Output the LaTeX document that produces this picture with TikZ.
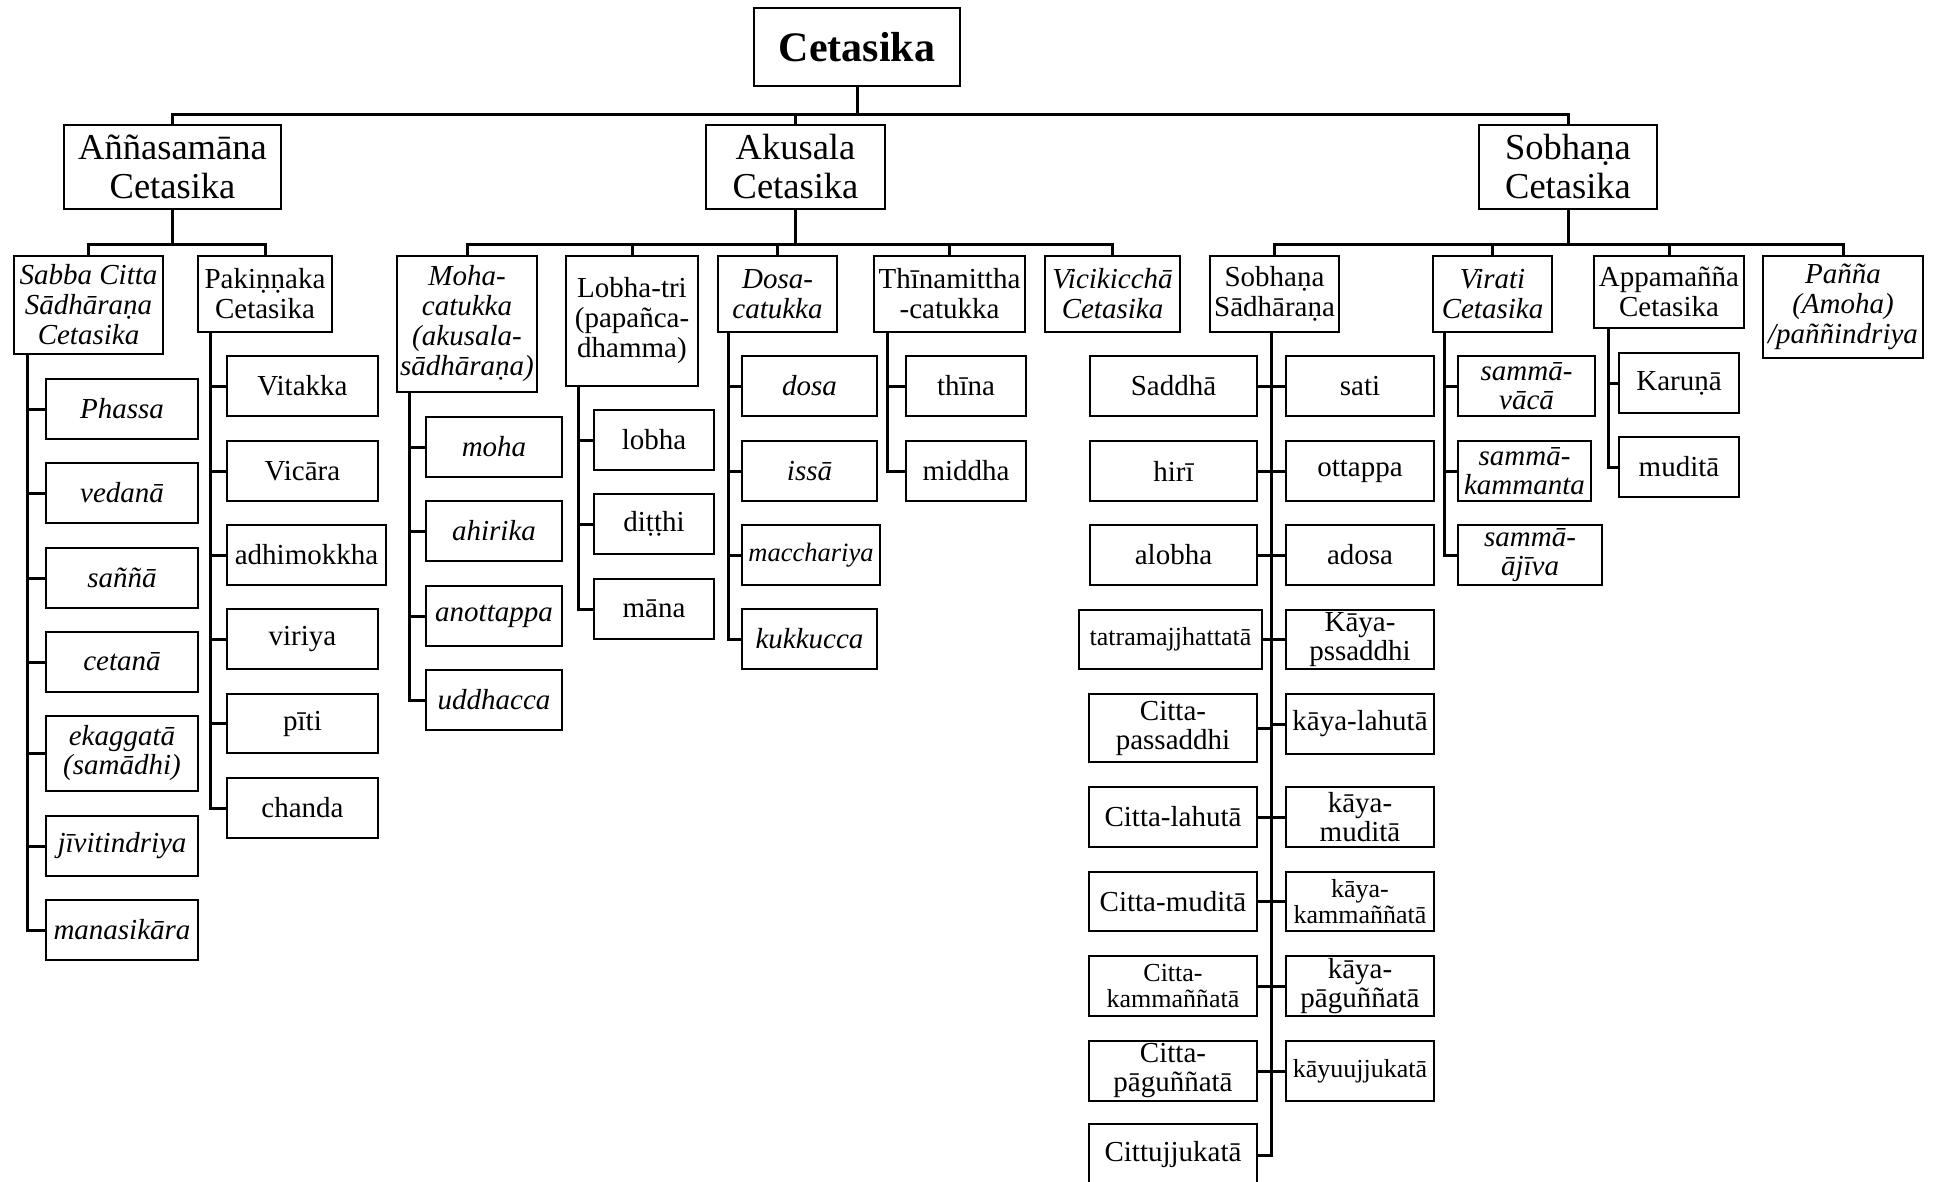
\documentclass[tikz,border=0pt]{standalone}
\usepackage{fontspec}
\setmainfont{Liberation Serif}
% box given by its corners: name, x1, y1, x2, y2, style, text
\newcommand\bx[7]{\node[#6, minimum width={(#4)-(#2)}, minimum height={(#5)-(#3)}] (#1) at ({((#2)+(#4))/2},{((#3)+(#5))/2}) {#7};}
\begin{document}
\begin{tikzpicture}[x=1pt,y=-1pt,
  box/.style={draw, line width=2.5pt, inner sep=0pt, align=center, fill=white},
  rootbox/.style={box, font=\fontsize{42}{44}\selectfont\bfseries},
  big/.style={box, font=\fontsize{36.5}{39}\selectfont},
  head/.style={box, font=\fontsize{29}{30}\selectfont},
  ihead/.style={box, font=\fontsize{29}{30}\selectfont\itshape},
  leaf/.style={box, font=\fontsize{29}{29}\selectfont},
  ileaf/.style={box, font=\fontsize{29}{29}\selectfont\itshape},
  small/.style={box, font=\fontsize{26}{26.5}\selectfont},
  ismall/.style={box, font=\fontsize{26.5}{27}\selectfont\itshape},
  wire/.style={line width=3pt}]
\clip (0,0) rectangle (1936,1182);
\fill[white] (0,0) rectangle (1936,1182);

% root and main groups
\bx{root}{754}{8}{960}{86}{rootbox}{Cetasika}
\bx{ann}{64}{125}{281}{209}{big}{Aññasamāna\\Cetasika}
\bx{aku}{706}{125}{885}{209}{big}{Akusala\\Cetasika}
\bx{sob}{1479}{125}{1657}{209}{big}{Sobhaṇa\\Cetasika}

% sub-groups
\bx{sabba}{14}{256}{163}{354}{ihead}{Sabba Citta\\Sādhāraṇa\\Cetasika}
\bx{pak}{198}{256}{332}{332}{head}{Pakiṇṇaka\\Cetasika}
\bx{moha}{397}{256}{537}{392}{ihead}{Moha-\\catukka\\(akusala-\\sādhāraṇa)}
\bx{lobha}{566}{256}{698}{386}{head}{Lobha-tri\\(papañca-\\dhamma)}
\bx{dosa}{718}{256}{837}{332}{ihead}{Dosa-\\catukka}
\bx{thina}{874}{256}{1025}{332}{head}{Thīnamittha\\-catukka}
\bx{vici}{1045}{256}{1180}{332}{ihead}{Vicikicchā\\Cetasika}
\bx{ssad}{1210}{256}{1339}{332}{head}{Sobhaṇa\\Sādhāraṇa}
\bx{vir}{1433}{256}{1552}{332}{ihead}{Virati\\Cetasika}
\bx{app}{1594}{256}{1744}{328}{head}{Appamañña\\Cetasika}
\bx{pan}{1763}{256}{1923}{358}{ihead}{Pañña\\(Amoha)\\/paññindriya}

% Sabba Citta Sadharana
\bx{phassa}{46}{379}{198}{439}{ileaf}{Phassa}
\bx{vedana}{46}{463}{198}{523}{ileaf}{vedanā}
\bx{sanna}{46}{548}{198}{608}{ileaf}{saññā}
\bx{cetana}{46}{632}{198}{692}{ileaf}{cetanā}
\bx{ekagg}{46}{716}{198}{791}{ileaf}{ekaggatā\\(samādhi)}
\bx{jivit}{46}{816}{198}{876}{ileaf}{jīvitindriya}
\bx{manas}{46}{900}{198}{960}{ileaf}{manasikāra}

% Pakinnaka
\bx{vitakka}{227}{356}{378}{416}{leaf}{Vitakka}
\bx{vicara}{227}{441}{378}{501}{leaf}{Vicāra}
\bx{adhim}{227}{525}{386}{585}{leaf}{adhimokkha}
\bx{viriya}{227}{609}{378}{669}{leaf}{viriya}
\bx{piti}{227}{694}{378}{753}{leaf}{pīti}
\bx{chanda}{227}{778}{378}{838}{leaf}{chanda}

% Moha-catukka
\bx{mohaL}{426}{417}{562}{477}{ileaf}{moha}
\bx{ahirika}{426}{501}{562}{561}{ileaf}{ahirika}
\bx{anott}{426}{586}{562}{646}{ileaf}{anottappa}
\bx{uddh}{426}{670}{562}{730}{ileaf}{uddhacca}

% Lobha-tri
\bx{lobhaL}{594}{410}{714}{470}{leaf}{lobha}
\bx{ditthi}{594}{494}{714}{554}{leaf}{diṭṭhi}
\bx{mana}{594}{579}{714}{639}{leaf}{māna}

% Dosa-catukka
\bx{dosaL}{742}{356}{877}{416}{ileaf}{dosa}
\bx{issa}{742}{441}{877}{501}{ileaf}{issā}
\bx{macch}{742}{525}{880}{585}{ismall}{macchariya}
\bx{kukk}{742}{609}{877}{669}{ileaf}{kukkucca}

% Thinamiddha
\bx{thinaL}{906}{356}{1026}{416}{leaf}{thīna}
\bx{middha}{906}{441}{1026}{501}{leaf}{middha}

% Sobhana Sadharana, left column
\bx{saddha}{1090}{356}{1257}{416}{leaf}{Saddhā}
\bx{hiri}{1090}{441}{1257}{501}{leaf}{hirī}
\bx{alobha}{1090}{525}{1257}{585}{leaf}{alobha}
\bx{tatra}{1079}{610}{1262}{669}{small}{tatramajjhattatā}
\bx{cpass}{1089}{694}{1257}{762}{leaf}{Citta-\\passaddhi}
\bx{clah}{1089}{787}{1257}{847}{leaf}{Citta-lahutā}
\bx{cmud}{1089}{872}{1257}{931}{leaf}{Citta-muditā}
\bx{ckamm}{1089}{956}{1257}{1016}{small}{Citta-\\kammaññatā}
\bx{cpag}{1089}{1041}{1257}{1101}{leaf}{Citta-\\pāguññatā}
\bx{cittuj}{1089}{1124}{1257}{1186}{leaf}{Cittujjukatā}

% Sobhana Sadharana, right column
\bx{sati}{1286}{356}{1434}{416}{leaf}{sati}
\bx{ottappa}{1286}{441}{1434}{501}{leaf}{ottappa}
\bx{adosa}{1286}{525}{1434}{585}{leaf}{adosa}
\bx{kpass}{1286}{610}{1434}{669}{leaf}{Kāya-\\pssaddhi}
\bx{klah}{1286}{694}{1434}{754}{leaf}{kāya-lahutā}
\bx{kmud}{1286}{787}{1434}{847}{leaf}{kāya-\\muditā}
\bx{kkamm}{1286}{872}{1434}{931}{small}{kāya-\\kammaññatā}
\bx{kpag}{1286}{956}{1434}{1016}{leaf}{kāya-\\pāguññatā}
\bx{kuj}{1286}{1041}{1434}{1101}{small}{kāyuujjukatā}

% Virati
\bx{vaca}{1458}{356}{1595}{416}{ileaf}{sammā-\\vācā}
\bx{kammanta}{1458}{441}{1591}{501}{ileaf}{sammā-\\kammanta}
\bx{ajiva}{1458}{525}{1602}{585}{ileaf}{sammā-\\ājīva}

% Appamanna
\bx{karuna}{1619}{353}{1739}{413}{leaf}{Karuṇā}
\bx{mudita}{1619}{437}{1739}{497}{leaf}{muditā}

% ---- connectors ----
\foreach \c in {ann,aku,sob}
  \draw[wire] (root.south) -- ++(0,27) -| (\c.north);
\foreach \c in {sabba,pak}
  \draw[wire] (ann.south) -- ++(0,34) -| (\c.north);
\foreach \c in {moha,lobha,dosa,thina,vici}
  \draw[wire] (aku.south) -- ++(0,34) -| (\c.north);
\foreach \c in {ssad,vir,app,pan}
  \draw[wire] (sob.south) -- ++(0,34) -| (\c.north);

\foreach \c in {phassa,vedana,sanna,cetana,ekagg,jivit,manas}
  \draw[wire] ([xshift=15pt]sabba.south west) |- (\c.west);
\foreach \c in {vitakka,vicara,adhim,viriya,piti,chanda}
  \draw[wire] ([xshift=14pt]pak.south west) |- (\c.west);
\foreach \c in {mohaL,ahirika,anott,uddh}
  \draw[wire] ([xshift=14pt]moha.south west) |- (\c.west);
\foreach \c in {lobhaL,ditthi,mana}
  \draw[wire] ([xshift=14pt]lobha.south west) |- (\c.west);
\foreach \c in {dosaL,issa,macch,kukk}
  \draw[wire] ([xshift=12pt]dosa.south west) |- (\c.west);
\foreach \c in {thinaL,middha}
  \draw[wire] ([xshift=15pt]thina.south west) |- (\c.west);
\foreach \c in {vaca,kammanta,ajiva}
  \draw[wire] ([xshift=13pt]vir.south west) |- (\c.west);
\foreach \c in {karuna,mudita}
  \draw[wire] ([xshift=16pt]app.south west) |- (\c.west);

\coordinate (ssx) at ([xshift=63pt]ssad.south west);
\draw[wire] (ssx) |- (cittuj.east);
\foreach \c in {saddha,hiri,alobha,tatra,cpass,clah,cmud,ckamm,cpag}
  \draw[wire] (\c.east) -- (\c.east -| ssx);
\foreach \c in {sati,ottappa,adosa,kpass,klah,kmud,kkamm,kpag,kuj}
  \draw[wire] (\c.west) -- (\c.west -| ssx);
\end{tikzpicture}
\end{document}
